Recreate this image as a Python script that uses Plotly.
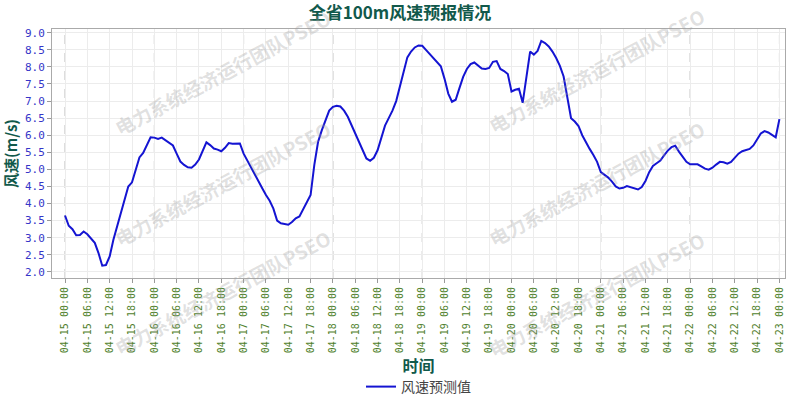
import pandas as pd
import plotly.graph_objects as go

# hourly forecast, 04-15 00:00 .. 04-23 00:00
start_time = "2024-04-15 00:00"
wind_speed = [
    3.65, 3.35, 3.25, 3.07, 3.08, 3.18, 3.10, 2.98, 2.85, 2.55, 2.18, 2.20,
    2.45, 2.94, 3.33, 3.65, 4.03, 4.50, 4.62, 5.00, 5.35, 5.48, 5.72, 5.94,
    5.93, 5.89, 5.93, 5.85, 5.77, 5.70, 5.46, 5.23, 5.13, 5.06, 5.05, 5.14,
    5.29, 5.55, 5.79, 5.71, 5.61, 5.58, 5.53, 5.63, 5.77, 5.75, 5.76, 5.76,
    5.46, 5.25, 5.08, 4.86, 4.62, 4.45, 4.25, 4.08, 3.85, 3.50, 3.42, 3.39,
    3.38, 3.46, 3.57, 3.62, 3.82, 4.03, 4.25, 5.13, 5.80, 6.14, 6.43, 6.72,
    6.83, 6.86, 6.84, 6.72, 6.54, 6.30, 6.05, 5.79, 5.53, 5.32, 5.25, 5.34,
    5.56, 5.92, 6.28, 6.50, 6.72, 7.00, 7.42, 7.85, 8.28, 8.45, 8.57, 8.63,
    8.62, 8.50, 8.38, 8.27, 8.16, 8.02, 7.65, 7.22, 6.98, 7.04, 7.38, 7.71,
    7.94, 8.08, 8.13, 8.05, 7.95, 7.94, 7.97, 8.15, 8.17, 7.94, 7.88, 7.79,
    7.28, 7.33, 7.36, 6.95, 7.70, 8.45, 8.36, 8.47, 8.76, 8.70, 8.60, 8.45,
    8.26, 8.03, 7.72, 7.15, 6.50, 6.40, 6.27, 6.00, 5.78, 5.60, 5.42, 5.22,
    4.92, 4.85, 4.76, 4.64, 4.50, 4.44, 4.46, 4.51, 4.48, 4.44, 4.41, 4.48,
    4.66, 4.92, 5.10, 5.18, 5.26, 5.41, 5.55, 5.65, 5.69, 5.52, 5.35, 5.22,
    5.15, 5.15, 5.15, 5.09, 5.02, 4.99, 5.05, 5.14, 5.22, 5.21, 5.17, 5.22,
    5.34, 5.46, 5.53, 5.56, 5.60, 5.70, 5.88, 6.05, 6.12, 6.08, 6.01, 5.94,
    6.47,
]
times = pd.date_range(start_time, periods=len(wind_speed), freq="h")
days = pd.date_range(start_time, times[-1], freq="D")

watermark = "电力系统经济运行团队PSEO"
# watermark centres in page pixels
wm_pos = [(222, 72), (222, 183), (222, 292), (596, 70), (596, 183), (596, 294)]

title_color = "#11594b"
l, r, t, b = 52, 15, 29, 122
pw, ph = 800 - l - r, 400 - t - b

fig = go.Figure()
fig.add_trace(go.Scatter(
    x=times, y=wind_speed, mode="lines", name="风速预测值",
    line=dict(color="#1414d2", width=2),
))

# dashed lines at each midnight
for d in days:
    fig.add_shape(type="line", x0=d, x1=d, y0=0, y1=1, xref="x", yref="paper",
                  line=dict(color="#b8b8b8", width=1, dash="dash"), layer="below")

for px_x, px_y in wm_pos:
    fig.add_annotation(text="<b>" + watermark + "</b>", x=(px_x - l) / pw,
                       y=1 - (px_y - t) / ph,
                       xref="paper", yref="paper", xanchor="center", yanchor="middle",
                       showarrow=False, textangle=-28,
                       font=dict(size=19, color="rgba(160,160,160,0.32)",
                                 family="Noto Sans CJK SC"))

fig.update_layout(
    width=800, height=400,
    margin=dict(l=l, r=r, t=t, b=b, autoexpand=False),
    paper_bgcolor="white", plot_bgcolor="white",
    font=dict(family="Noto Sans CJK SC"),
    title=dict(text="<b>全省100m风速预报情况</b>", x=0.5, xref="container",
               y=1 - 13 / 400, yref="container", yanchor="middle",
               font=dict(size=17, color=title_color)),
    showlegend=True,
    legend=dict(orientation="h", x=0.5, xanchor="center", y=1 - (387 - t) / ph,
                yanchor="middle", font=dict(size=14, color="#444"),
                bgcolor="rgba(0,0,0,0)", itemwidth=30),
)

fig.update_xaxes(
    range=[pd.Timestamp(start_time) - pd.Timedelta(hours=3.5),
           times[-1] + pd.Timedelta(hours=1.5)],
    dtick=6 * 3600 * 1000, tick0=start_time, tickformat="%m-%d %H:%M",
    tickangle=-90, ticks="outside", ticklen=4, tickcolor="#999",
    tickfont=dict(family="DejaVu Sans Mono", size=10, color="#4f7f2c"),
    showgrid=True, gridcolor="#ececec", gridwidth=1, automargin=False,
    showline=True, linecolor="#aaaaaa", linewidth=1, mirror=True, zeroline=False,
    title=dict(text="<b>时间</b>", standoff=2, font=dict(size=16, color=title_color)),
)
fig.update_yaxes(
    range=[1.82, 9.11], dtick=0.5, tick0=2.0, tickformat=".1f",
    ticks="outside", ticklen=4, tickcolor="#999",
    tickfont=dict(family="DejaVu Sans Mono", size=11, color="#3535c8"),
    showgrid=True, gridcolor="#ececec", gridwidth=1, automargin=False,
    showline=True, linecolor="#aaaaaa", linewidth=1, mirror=True, zeroline=False,
    title=dict(text="<b>风速(m/s)</b>", standoff=4, font=dict(size=15, color=title_color)),
)

fig.write_html("out.html", config={"displayModeBar": False},
               post_script="document.body.style.margin='0';")
